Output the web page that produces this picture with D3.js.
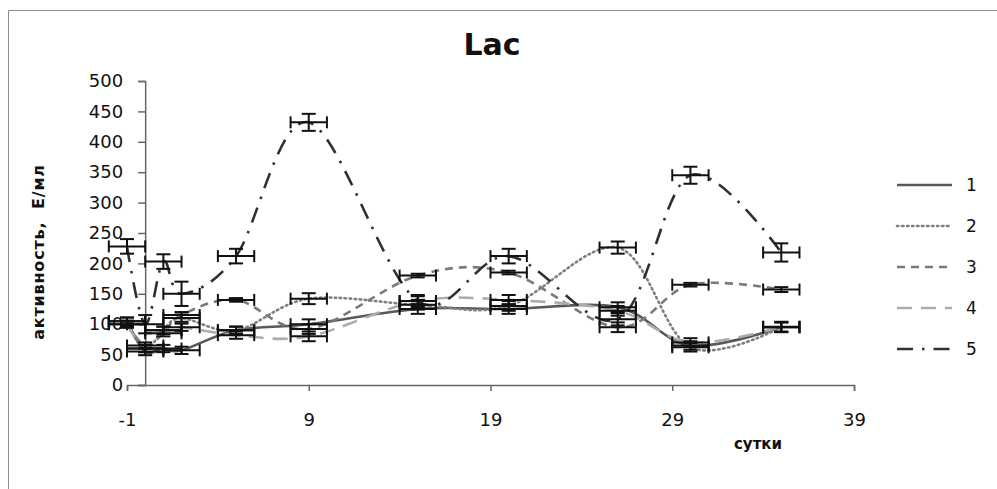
<!DOCTYPE html>
<html>
<head>
<meta charset="utf-8">
<script src="https://cdn.jsdelivr.net/npm/d3@7"></script>
<style>
  html, body { margin: 0; padding: 0; background: #fff; }
  svg { display: block; }
</style>
</head>
<body>
<svg id="chart" width="997" height="489"></svg>
<script>
// Sampling days (x) shared by all series
const days = [-1, 0, 1, 2, 5, 9, 15, 20, 26, 30, 35];
const xTicks = [-1, 9, 19, 29, 39];
const yTicks = [0, 50, 100, 150, 200, 250, 300, 350, 400, 450, 500];
const seriesNames = ["1", "2", "3", "4", "5"];

// Laccase activity, U/ml, per series
const s1 = [105, 55, 60, 57, 90, 100, 125, 125, 128, 65, 95];
const s2 = [105, 60, 90, 110, 90, 142, 132, 130, 226, 62, 95];
const s3 = [100, 65, 85, 115, 140, 92, 180, 185, 95, 165, 157];
const s4 = [100, 60, 90, 95, 82, 80, 138, 140, 122, 70, 96];
const s5 = [228, 100, 203, 150, 212, 432, 138, 212, 108, 345, 218];

// Vertical error (±) for each point
const e1 = [6, 6, 6, 6, 6, 8, 8, 8, 8, 7, 8];
const e2 = [6, 6, 6, 6, 6, 9, 8, 8, 10, 7, 8];
const e3 = [4, 5, 5, 5, 3, 8, 3, 3, 8, 3, 4];
const e4 = [6, 6, 6, 6, 6, 8, 8, 8, 8, 7, 8];
const e5 = [12, 15, 12, 20, 12, 14, 10, 12, 10, 14, 15];
// Horizontal error (± days)
const xErr = 1;

const values = [s1, s2, s3, s4, s5];
const errors = [e1, e2, e3, e4, e5];

const styles = [
  { color: "#595959", dash: null, width: 2.6 },
  { color: "#7f7f7f", dash: "1.5,3.5", width: 2.6, cap: "round" },
  { color: "#7a7a7a", dash: "8,6", width: 2.6 },
  { color: "#acacac", dash: "15,9", width: 2.6 },
  { color: "#303030", dash: "16,9,2.5,9", width: 2.6 }
];

const svg = d3.select("#chart");

// outer frame
svg.append("path")
  .attr("d", "M8.5,489 L8.5,10.5 L997,10.5")
  .attr("fill", "none").attr("stroke", "#8c8c8c").attr("stroke-width", 1);

const x = d3.scaleLinear().domain([-1, 39]).range([127, 854]);
const y = d3.scaleLinear().domain([0, 500]).range([385, 81]);

const font = "'DejaVu Sans', Verdana, sans-serif";

// title
svg.append("text")
  .attr("x", 492).attr("y", 55)
  .attr("text-anchor", "middle")
  .attr("font-family", font).attr("font-weight", "bold")
  .attr("font-size", 30).attr("fill", "#111")
  .text("Lac");

// x axis
const xAxis = d3.axisBottom(x).tickValues(xTicks).tickSize(6).tickPadding(22)
  .tickFormat(d => String(d));
const gx = svg.append("g").attr("transform", `translate(0,${y(0)})`).call(xAxis);
gx.select(".domain").attr("stroke", "#666").attr("stroke-width", 1.5);
gx.selectAll(".tick line").attr("stroke", "#666").attr("stroke-width", 1.5);
gx.selectAll("text").attr("font-family", font).attr("font-size", 18).attr("fill", "#111");

// y axis crosses at x = 0
const yAxis = d3.axisLeft(y).tickValues(yTicks).tickSize(7).tickPadding(15);
const gy = svg.append("g").attr("transform", `translate(${x(0)},0)`).call(yAxis);
gy.select(".domain").attr("stroke", "#666").attr("stroke-width", 1.5);
gy.selectAll(".tick line").attr("stroke", "#666").attr("stroke-width", 1.5);
gy.selectAll("text").attr("font-family", font).attr("font-size", 18).attr("fill", "#111");

// axis titles
svg.append("text")
  .attr("transform", "translate(44,252) rotate(-90)")
  .attr("text-anchor", "middle")
  .attr("font-family", font).attr("font-weight", "bold")
  .attr("font-size", 16).attr("letter-spacing", 0.8).attr("fill", "#111")
  .attr("xml:space", "preserve")
  .text("активность,  Е/мл");

svg.append("text")
  .attr("x", 758).attr("y", 449)
  .attr("text-anchor", "middle")
  .attr("font-family", font).attr("font-weight", "bold")
  .attr("font-size", 15).attr("fill", "#111")
  .text("сутки");

// smoothed series lines
const line = d3.line()
  .x(d => x(d[0])).y(d => y(d[1]))
  .curve(d3.curveCatmullRom.alpha(0));

values.forEach((vals, i) => {
  const st = styles[i];
  svg.append("path")
    .datum(days.map((d, j) => [d, vals[j]]))
    .attr("d", line)
    .attr("fill", "none")
    .attr("stroke", st.color)
    .attr("stroke-width", st.width)
    .attr("stroke-dasharray", st.dash)
    .attr("stroke-linecap", st.cap || "butt");
});

// error bars
const eb = svg.append("g").attr("stroke", "#111").attr("stroke-width", 2).attr("fill", "none");
values.forEach((vals, i) => {
  vals.forEach((v, j) => {
    const d = days[j], e = errors[i][j];
    const cx = x(d), cy = y(v);
    // vertical
    eb.append("line").attr("x1", cx).attr("x2", cx).attr("y1", y(v - e)).attr("y2", y(v + e));
    eb.append("line").attr("x1", cx - 7).attr("x2", cx + 7).attr("y1", y(v - e)).attr("y2", y(v - e));
    eb.append("line").attr("x1", cx - 7).attr("x2", cx + 7).attr("y1", y(v + e)).attr("y2", y(v + e));
    // horizontal
    eb.append("line").attr("x1", x(d - xErr)).attr("x2", x(d + xErr)).attr("y1", cy).attr("y2", cy);
    eb.append("line").attr("x1", x(d - xErr)).attr("x2", x(d - xErr)).attr("y1", cy - 6).attr("y2", cy + 6);
    eb.append("line").attr("x1", x(d + xErr)).attr("x2", x(d + xErr)).attr("y1", cy - 6).attr("y2", cy + 6);
  });
});

// legend
const lg = svg.append("g");
seriesNames.forEach((name, i) => {
  const ly = 185 + i * 41;
  const st = styles[i];
  lg.append("line")
    .attr("x1", 897).attr("x2", 952).attr("y1", ly).attr("y2", ly)
    .attr("stroke", st.color).attr("stroke-width", st.width)
    .attr("stroke-dasharray", st.dash)
    .attr("stroke-linecap", st.cap || "butt");
  lg.append("text")
    .attr("x", 966).attr("y", ly + 6)
    .attr("font-family", font).attr("font-size", 17).attr("fill", "#111")
    .text(name);
});
</script>
</body>
</html>
